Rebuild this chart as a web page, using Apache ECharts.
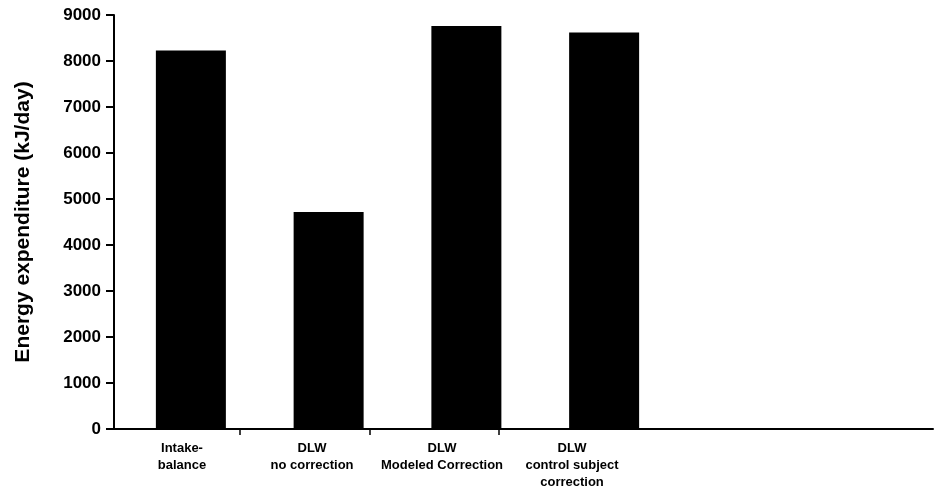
<!DOCTYPE html>
<html>
<head>
<meta charset="utf-8">
<script src="https://cdn.jsdelivr.net/npm/echarts@6/dist/echarts.min.js"></script>
<style>html,body{margin:0;padding:0;background:#fff}#c{width:935px;height:497px}</style>
</head>
<body>
<div id="c"></div>
<script>
var categories = ["Intake-\nbalance", "DLW\nno correction", "DLW\nModeled Correction", "DLW\ncontrol subject\ncorrection"];
var values = [8230, 4720, 8760, 8620];
var yTitle = "Energy expenditure (kJ/day)";
var tickMarks = ["", "", ""];

var chart = echarts.init(document.getElementById('c'));
chart.setOption({
  animation: false,
  backgroundColor: '#fff',
  grid: [
    {left: 122, width: 551, top: 15, bottom: 68},
    {left: 117, width: 520, top: 15, bottom: 68},
    {left: 114, right: 2, top: 15, bottom: 68},
    {left: 240, width: 259, top: 15, bottom: 68}
  ],
  xAxis: [
    {gridIndex: 0, type: 'category', data: categories, axisLine: {show: false}, axisTick: {show: false}, axisLabel: {show: false}},
    {gridIndex: 1, type: 'category', data: categories, boundaryGap: true,
     axisLine: {show: false}, axisTick: {show: false},
     axisLabel: {interval: 0, color: '#000', fontFamily: 'Liberation Sans, Arial', fontWeight: 'bold', fontSize: 13, lineHeight: 17, margin: 11}},
    {gridIndex: 2, type: 'value', min: 0, max: 1, axisLine: {show: true, lineStyle: {color: '#000', width: 2}}, axisTick: {show: false}, axisLabel: {show: false}, splitLine: {show: false}},
    {gridIndex: 3, type: 'category', data: tickMarks, boundaryGap: false,
     axisLine: {show: false}, axisLabel: {show: false},
     axisTick: {show: true, interval: 0, length: 6, lineStyle: {color: '#000', width: 1.5}}}
  ],
  yAxis: [
    {gridIndex: 0, type: 'value', min: 0, max: 9000, interval: 1000, offset: 8,
     name: yTitle, nameLocation: 'middle', nameGap: 80,
     nameTextStyle: {color: '#000', fontFamily: 'Liberation Sans, Arial', fontWeight: 'bold', fontSize: 21},
     axisLine: {show: true, lineStyle: {color: '#000', width: 2}},
     axisTick: {show: true, length: 8, lineStyle: {color: '#000', width: 2}},
     axisLabel: {color: '#000', fontFamily: 'Liberation Sans, Arial', fontWeight: 'bold', fontSize: 17, margin: 13,
       formatter: function (v) { return String(v); }},
     splitLine: {show: false}},
    {gridIndex: 1, type: 'value', show: false},
    {gridIndex: 2, type: 'value', show: false},
    {gridIndex: 3, type: 'value', show: false}
  ],
  series: [{
    type: 'bar', xAxisIndex: 0, yAxisIndex: 0, data: values, barWidth: 70,
    itemStyle: {color: '#000'}
  }]
});
</script>
</body>
</html>
